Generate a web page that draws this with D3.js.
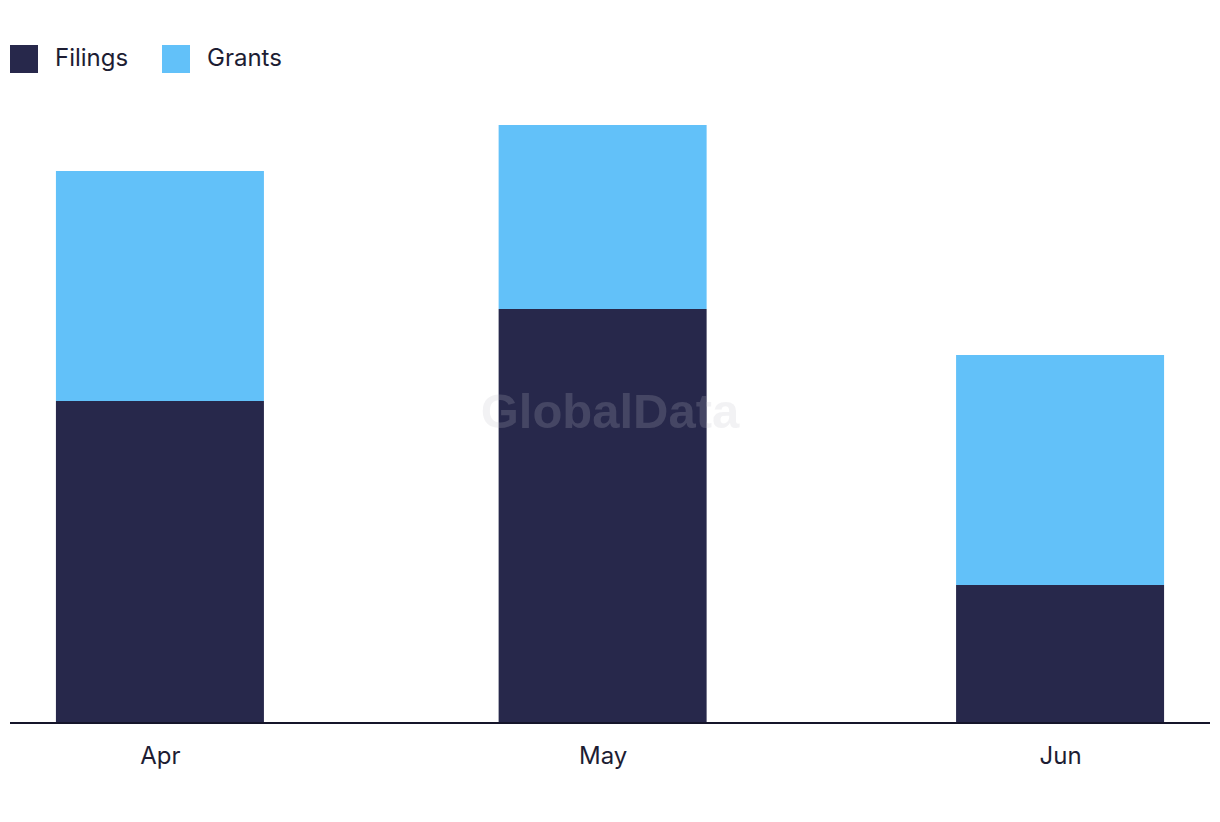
<!DOCTYPE html>
<html><head><meta charset="utf-8">
<script src="https://cdn.jsdelivr.net/npm/d3@7"></script>
<style>html,body{margin:0;padding:0;background:#fff;}svg{display:block;font-family:Inter,"Noto Sans",sans-serif;}</style>
</head><body>
<svg id="chart" width="1220" height="822"></svg>
<script>
const months = ["2023-04-01", "2023-05-01", "2023-06-01"];
const monthLabels = ["Apr", "May", "Jun"];
const filings = [7, 9, 3];
const grants = [5, 4, 5];
const seriesNames = ["Filings", "Grants"];
const seriesColors = ["#27284B", "#62C1F9"];

const svg = d3.select("#chart");
const parse = d3.utcParse("%Y-%m-%d");
const dates = months.map(parse);
const pad = 10.16 * 864e5;
const x = d3.scaleUtc()
  .domain([new Date(dates[0].getTime() - pad), new Date(dates[2].getTime() + pad)])
  .range([10, 1210]);
const baseY = 723;
const y = d3.scaleLinear().domain([0, 13]).range([baseY, 125]);
const barW = 208;

const rows = dates.map((d, i) => ({date: d, Filings: filings[i], Grants: grants[i]}));
const stack = d3.stack().keys(seriesNames)(rows);

svg.append("g").selectAll("g").data(stack).join("g")
  .attr("fill", (s, i) => seriesColors[i])
  .selectAll("rect").data(s => s).join("rect")
  .attr("x", d => x(d.data.date) - barW / 2)
  .attr("width", barW)
  .attr("y", d => y(d[1]))
  .attr("height", d => y(d[0]) - y(d[1]));

// watermark
svg.append("text")
  .attr("x", 610).attr("y", 428)
  .attr("text-anchor", "middle")
  .attr("font-family", "Liberation Sans, Arial, sans-serif")
  .attr("font-weight", "bold")
  .attr("font-size", 49)
  .attr("fill", "rgba(190,190,200,0.2)")
  .text("GlobalData");

// axis
const axis = d3.axisBottom(x).tickValues(dates)
  .tickFormat((d, i) => monthLabels[i]).tickSize(0).tickPadding(0);
const ax = svg.append("g").attr("transform", `translate(0,${baseY})`).call(axis);
ax.select(".domain").attr("stroke", "#15152a").attr("stroke-width", 2).attr("d", "M10,0H1210");
ax.selectAll("text").attr("font-size", 24).attr("fill", "#1d1d33")
  .attr("font-family", "Inter, sans-serif").attr("dy", null).attr("y", 41);

// legend
const leg = svg.append("g");
const legX = [10, 162];
seriesNames.forEach((n, i) => {
  leg.append("rect").attr("x", legX[i]).attr("y", 45).attr("width", 28).attr("height", 28).attr("fill", seriesColors[i]);
  leg.append("text").attr("x", legX[i] + 45).attr("y", 66).attr("font-size", 24).attr("fill", "#1d1d33").text(n);
});
</script>
</body></html>
